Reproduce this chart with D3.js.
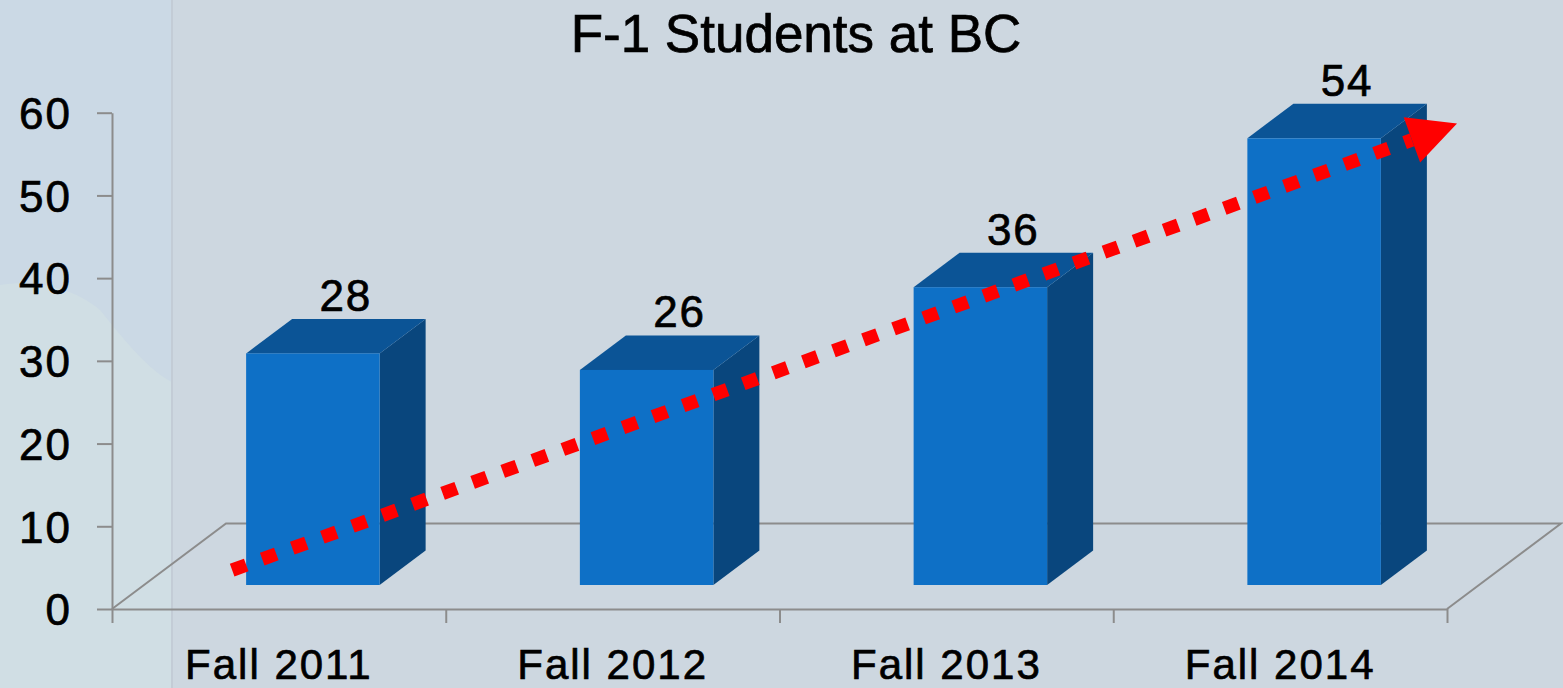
<!DOCTYPE html>
<html>
<head>
<meta charset="utf-8">
<script src="https://cdn.jsdelivr.net/npm/d3@7/dist/d3.min.js"></script>
<style>
  html, body { margin: 0; padding: 0; background: #cdd7e0; }
  svg { display: block; }
  text { font-family: "Liberation Sans", Arial, sans-serif; fill: #000; stroke: #000; stroke-width: 0.7px; }
</style>
</head>
<body>
<svg id="chart" width="1563" height="688"></svg>
<script>
// ---- data ----
const categories = ["Fall 2011", "Fall 2012", "Fall 2013", "Fall 2014"];
const students = [28, 26, 36, 54];
const yTicks = [0, 10, 20, 30, 40, 50, 60];
const chartTitle = "F-1 Students at BC";
// trend arrow in data space: [category index, value]
const trendFrom = [-0.14, 4.7];
const trendTo = [3.53, 58.7];

// ---- layout ----
const W = 1563, H = 688;
const plot = { left: 112, right: 1447, top: 112.7, bottom: 609 };
const floorDepth = { dx: 114, dy: -85.5 };
const barShift = { dx: 34, dy: -24 };
const barDepth = { dx: 46, dy: -34.5 };

const svg = d3.select("#chart");

// background decoration (left panel)
svg.append("rect").attr("x", 0).attr("y", 0).attr("width", W).attr("height", H).attr("fill", "#cdd7e0");
svg.append("rect").attr("x", 0).attr("y", 0).attr("width", 172).attr("height", H).attr("fill", "#cbd9e5");
svg.append("path")
  .attr("d", "M0,285 C40,278 80,292 100,310 C120,335 150,372 172,382 L172,688 L0,688 Z")
  .attr("fill", "#d0dee4");
svg.append("line").attr("x1", 172).attr("x2", 172).attr("y1", 0).attr("y2", H)
  .attr("stroke", "#c3ccd6").attr("stroke-width", 2);

// ---- scales ----
const y = d3.scaleLinear().domain([0, 60]).range([plot.bottom, plot.top]);
const xBand = d3.scaleBand().domain(categories).range([plot.left, plot.right])
  .paddingInner(0.6).paddingOuter(0.3);
const xIdx = d3.scaleLinear().domain([-0.5, categories.length - 0.5]).range([plot.left, plot.right]);

const gray = "#8c8c8c";

// floor
const floor = svg.append("g").attr("fill", "none").attr("stroke", gray).attr("stroke-width", 2);
floor.append("path").attr("d", d3.line()([
  [plot.left, plot.bottom],
  [plot.left + floorDepth.dx, plot.bottom + floorDepth.dy],
  [plot.right + floorDepth.dx, plot.bottom + floorDepth.dy],
  [plot.right, plot.bottom]
]));

// y axis
const yAxis = d3.axisLeft(y).tickValues(yTicks).tickSize(15).tickSizeOuter(0).tickPadding(25);
const gy = svg.append("g").attr("transform", `translate(${plot.left},0)`).call(yAxis);
gy.select(".domain").attr("stroke", gray).attr("stroke-width", 2);
gy.selectAll(".tick line").attr("stroke", gray).attr("stroke-width", 2);
gy.selectAll(".tick text")
  .style("font-family", '"Liberation Sans", Arial, sans-serif')
  .style("font-size", "44px").style("letter-spacing", "2px")
  .attr("fill", "#000").attr("dy", "0.36em");

// x axis: boundary ticks
const xTickAxis = d3.axisBottom(xIdx)
  .tickValues(d3.range(-0.5, categories.length, 1))
  .tickSize(14).tickSizeOuter(0).tickFormat("");
const gx = svg.append("g").attr("transform", `translate(0,${plot.bottom})`).call(xTickAxis);
gx.select(".domain").attr("stroke", gray).attr("stroke-width", 2);
gx.selectAll(".tick line").attr("stroke", gray).attr("stroke-width", 2);

// x axis labels
const xLabAxis = d3.axisBottom(xBand).tickSize(0).tickPadding(40);
const gxl = svg.append("g").attr("transform", `translate(0,${plot.bottom})`).call(xLabAxis);
gxl.select(".domain").remove();
gxl.selectAll(".tick text")
  .style("font-family", '"Liberation Sans", Arial, sans-serif')
  .style("font-size", "42px").style("letter-spacing", "2px")
  .attr("fill", "#000").attr("dy", "0.71em");

// ---- 3D bars ----
const bars = svg.append("g");
categories.forEach((c, i) => {
  const v = students[i];
  const x0 = xBand(c) + barShift.dx;
  const x1 = x0 + xBand.bandwidth();
  const yb = y(0) + barShift.dy;
  const yt = y(v) + barShift.dy;
  const g = bars.append("g");
  // side face
  g.append("path").attr("fill", "#09467d").attr("d", d3.line()([
    [x1, yt], [x1 + barDepth.dx, yt + barDepth.dy],
    [x1 + barDepth.dx, yb + barDepth.dy], [x1, yb]
  ]) + "Z");
  // top face
  g.append("path").attr("fill", "#0b5496").attr("d", d3.line()([
    [x0, yt], [x0 + barDepth.dx, yt + barDepth.dy],
    [x1 + barDepth.dx, yt + barDepth.dy], [x1, yt]
  ]) + "Z");
  // front face
  g.append("rect").attr("fill", "#0e70c6")
    .attr("x", x0).attr("y", yt).attr("width", x1 - x0).attr("height", yb - yt);
  // value label
  g.append("text")
    .attr("x", (x0 + x1) / 2 + 33)
    .attr("y", yt + barDepth.dy - 8)
    .attr("text-anchor", "middle")
    .style("font-size", "44px").style("letter-spacing", "2px")
    .text(v);
});

// ---- trend arrow ----
const p0 = [xIdx(trendFrom[0]), y(trendFrom[1])];
const p1 = [xIdx(trendTo[0]), y(trendTo[1])];
const ang = Math.atan2(p1[1] - p0[1], p1[0] - p0[0]);
const headLen = 48, headHalf = 24;
const ux = Math.cos(ang), uy = Math.sin(ang);
const base = [p1[0] - ux * headLen, p1[1] - uy * headLen];
svg.append("line")
  .attr("x1", p0[0]).attr("y1", p0[1]).attr("x2", base[0]).attr("y2", base[1])
  .attr("stroke", "#ff0000").attr("stroke-width", 13.5)
  .attr("stroke-dasharray", "15,17");
svg.append("path").attr("fill", "#ff0000").attr("d", d3.line()([
  p1,
  [base[0] - uy * headHalf, base[1] + ux * headHalf],
  [base[0] + uy * headHalf, base[1] - ux * headHalf]
]) + "Z");

// ---- title ----
svg.append("text").attr("x", 796).attr("y", 52).attr("text-anchor", "middle")
  .style("font-size", "53px").text(chartTitle);
</script>
</body>
</html>
